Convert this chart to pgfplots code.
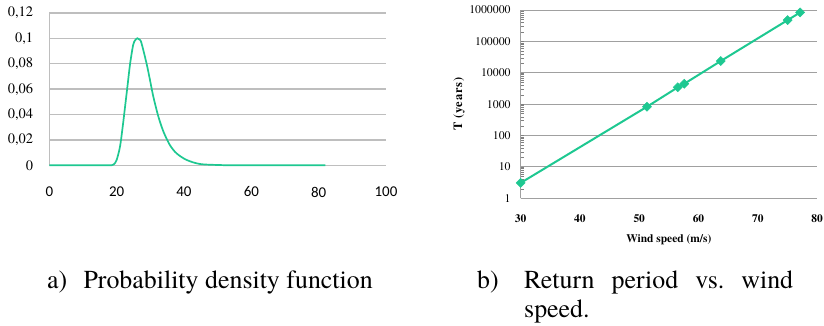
\documentclass[border=0pt]{standalone}
\usepackage{pgfplots}
\pgfplotsset{compat=1.18}
\usepackage{fontspec}
\setmainfont{texgyretermes}[Extension=.otf, UprightFont=*-regular, BoldFont=*-bold, ItalicFont=*-italic, BoldItalicFont=*-bolditalic]
\newfontfamily\carlito{Carlito}
\definecolor{curve}{RGB}{30,200,145}
\definecolor{gridA}{RGB}{190,190,190}
\definecolor{gridB}{RGB}{160,160,160}
\begin{document}
\begin{tikzpicture}[x=1bp,y=1bp]
\useasboundingbox (0,0) rectangle (824,325);
% ---------- left: PDF ----------
\begin{axis}[
  at={(49.3bp,159.7bp)}, anchor=south west,
  scale only axis, width=336.7bp, height=152.4bp,
  xmin=0, xmax=100, ymin=0, ymax=0.12,
  /pgf/number format/assume math mode=true,
  axis x line=none, axis y line*=left,
  axis line style={gridA, line width=1.3bp},
  xtick={0,20,40,60,80,100},
  ytick={0,0.02,0.04,0.06,0.08,0.1,0.12},
  yticklabels={{0},{0,02},{0,04},{0,06},{0,08},{0,1},{0,12}},
  xticklabels={0,20,40,60,80,100},
  major tick length=0pt,
  ymajorgrids, major grid style={gridA, line width=1.3bp},
  xticklabel style={font=\carlito\fontsize{15}{15}\selectfont, anchor=center, inner sep=0pt, yshift=-26.7bp},
  yticklabel style={font=\rmfamily\fontsize{14.5}{14.5}\selectfont, anchor=east, inner sep=0pt, xshift=-16bp},
  clip=false,
]
\addplot[curve, line width=1.7bp, smooth, tension=0.5] coordinates {
  (0,0) (10,0) (17,0) (18.5,0) (19.2,0.0008) (20,0.0042) (21,0.0147)
  (21.8,0.0304) (22.5,0.0461) (23.2,0.0619) (24,0.080) (24.9,0.0947)
  (25.5,0.0985) (26.2,0.1) (26.9,0.0988) (27.4,0.096) (28.9,0.080)
  (29.9,0.0672) (30.9,0.054) (32.4,0.0383) (33.9,0.0265) (35.8,0.016)
  (37.8,0.0094) (40.8,0.0042) (44.8,0.001) (50.7,0.0002) (55,0) (65,0) (75,0) (82,0)
};
\end{axis}
% x tick labels for left axis (axis x line=none hides them), so draw via second invisible axis
\begin{axis}[
  at={(49.3bp,159.7bp)}, anchor=south west,
  scale only axis, width=336.7bp, height=152.4bp,
  xmin=0, xmax=100, ymin=0, ymax=0.12,
  /pgf/number format/assume math mode=true,
  axis line style={draw=none}, ytick=\empty,
  xtick={0,20,40,60,80,100},
  xticklabels={0,20,40,60,80,100},
  major tick length=0pt,
  xticklabel style={font=\carlito\fontsize{15}{15}\selectfont, anchor=center, inner sep=0pt, yshift=-26.7bp},
]
\end{axis}
% ---------- right: return period ----------
\begin{axis}[
  at={(520.7bp,126.7bp)}, anchor=south west,
  scale only axis, width=296.3bp, height=188.3bp,
  xmin=30, xmax=80, ymin=1, ymax=1000000, ymode=log,
  /pgf/number format/assume math mode=true,
  axis x line*=bottom, axis y line*=left,
  axis line style={gridB, line width=0.9bp},
  xtick={30,40,50,60,70,80},
  xticklabels={30,40,50,60,70,80},
  ytick={1,10,100,1000,10000,100000,1000000},
  yticklabels={1,10,100,1000,10000,100000,1000000},
  major tick length=0pt,
  ymajorgrids, major grid style={gridB, line width=0.9bp},
  xticklabel style={font=\rmfamily\bfseries\fontsize{11.5}{11.5}\selectfont, anchor=center, inner sep=0pt, yshift=-20bp},
  yticklabel style={font=\rmfamily\fontsize{11.8}{11.8}\selectfont, anchor=east, inner sep=0pt, xshift=-10bp},
  xlabel={Wind speed (m/s)}, ylabel={T (years)},
  xlabel style={font=\rmfamily\bfseries\fontsize{11.5}{11.5}\selectfont, at={(axis description cs:0.5,-0.221)}, anchor=center, inner sep=0pt},
  ylabel style={font=\rmfamily\bfseries\fontsize{12.5}{12.5}\selectfont\addfontfeature{LetterSpace=6}, at={(axis description cs:-0.208,0.5)}, anchor=center, inner sep=0pt, rotate=0},
  clip=false,
]
\addplot[curve, line width=2bp, mark=square*, mark size=3.2bp, mark options={rotate=45, fill=curve, draw=curve, line width=0.5bp}] coordinates {
  (30,3.1) (51.3,826) (56.5,3430) (57.6,4460) (63.75,23600) (75.05,477000) (77.15,835000)
};
\end{axis}
% ---------- captions ----------
\begin{scope}[every node/.style={inner sep=0pt, font=\rmfamily\fontsize{26}{30}\selectfont}]
\node[anchor=base west] at (47,37) {a)};
\node[anchor=base west] at (83.3,37) {Probability density function};
\node[anchor=base west] at (477,37) {b)};
\node[anchor=base west] at (524,37) {\makebox[269bp][s]{Return\hfill period\hfill vs.\hfill wind}};
\node[anchor=base west] at (524,8) {speed.};
\end{scope}
\end{tikzpicture}
\end{document}
